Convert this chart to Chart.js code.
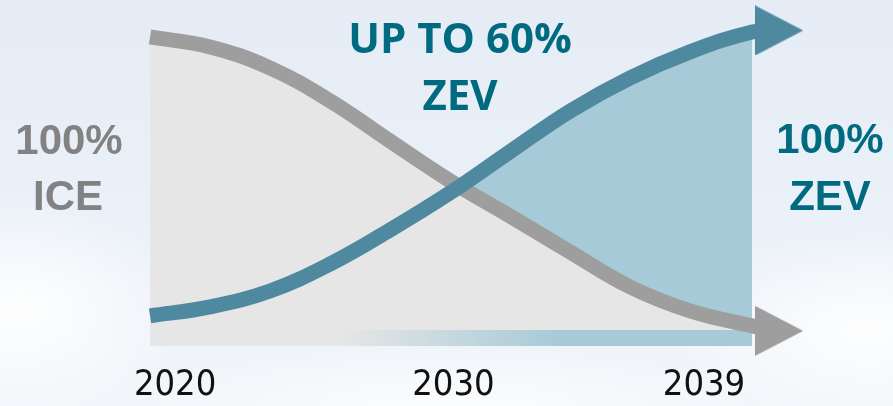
<!DOCTYPE html>
<html>
<head>
<meta charset="utf-8">
<script src="https://cdn.jsdelivr.net/npm/chart.js@4"></script>
<style>
  html, body { margin: 0; padding: 0; }
  body {
    width: 893px; height: 406px; overflow: hidden;
    background:
      radial-gradient(ellipse 170px 110px at 20px 310px, rgba(255,255,255,0.95), rgba(255,255,255,0) 100%),
      radial-gradient(ellipse 200px 100px at 870px 330px, rgba(255,255,255,0.9), rgba(255,255,255,0) 100%),
      radial-gradient(ellipse 320px 60px at 450px 405px, rgba(255,255,255,0.7), rgba(255,255,255,0) 100%),
      linear-gradient(#e5ecf5, #ebf1f8 55%, #f2f6fa);
  }
  #wrap { position: relative; width: 893px; height: 406px; }
</style>
</head>
<body>
<div id="wrap"><canvas id="chart"></canvas></div>
<script>
// years along the curves
const years = [2019.1, 2021.26, 2023.41, 2025.57, 2027.72, 2029.88, 2032.03, 2034.19, 2036.34, 2038.5, 2040.73];
// share of new sales, %
const iceShare = [100, 96.6, 89.4, 78.2, 64.5, 50.9, 38.9, 26.6, 14.7, 6.5, 1.4];
const zevShare = [4.8, 7.9, 13.3, 22.5, 34.1, 46.8, 60.8, 74.7, 86.0, 94.9, 101.7];
// where each arrow head sits
const arrowYear = 2041.7;
const iceArrow = -0.3;
const zevArrow = 102.2;
// flat base strip under the area
const baseTop = [0, 0];
const baseBottom = -5.5;
// x axis labels
const tickYears = [2020, 2030, 2039];
const tickLabels = ['2020', '2030', '2039'];

const GREY_LINE = '#9e9e9e';
const BLUE_LINE = '#4e89a0';
const GREY_FILL = '#e6e6e6';
const BLUE_FILL = '#a7cad8';

function makeArrow(color) {
    const c = document.createElement('canvas');
    c.width = 48;
    c.height = 50;
    const g = c.getContext('2d');
    g.fillStyle = color;
    g.beginPath();
    g.moveTo(0, 0);
    g.lineTo(48, 25);
    g.lineTo(0, 50);
    g.closePath();
    g.fill();
    return c;
}

function toPoints(xs, ys) {
    return xs.map((x, i) => ({ x: x, y: ys[i] }));
}

const greyArrow = makeArrow(GREY_LINE);
const blueArrow = makeArrow(BLUE_LINE);
const lastIdx = years.length; // index of arrow point in line datasets

// labels drawn on the canvas
const labelPlugin = {
    id: 'labels',
    afterDraw(chart) {
        const c = chart.ctx;
        c.save();
        c.textAlign = 'center';
        c.textBaseline = 'alphabetic';
        c.font = 'bold 42px "Liberation Sans", Arial, sans-serif';
        c.fillStyle = '#828282';
        c.fillText('100%', 69, 154);
        c.fillText('ICE', 68, 210);
        c.fillStyle = '#006a80';
        c.fillText('100%', 830, 153);
        c.fillText('ZEV', 830, 210);
        c.font = 'bold 42px "Open Sans", sans-serif';
        c.fillText('UP TO 60%', 460, 53);
        c.fillText('ZEV', 460, 110);
        c.restore();
    }
};

new Chart(document.getElementById('chart'), {
    type: 'line',
    data: {
        datasets: [
            {
                label: 'ICE area',
                data: toPoints(years, iceShare),
                backgroundColor: GREY_FILL,
                borderWidth: 0,
                pointRadius: 0,
                tension: 0.4,
                fill: { value: baseBottom },
                order: 6
            },
            {
                label: 'base',
                data: toPoints([years[0], years[years.length - 1]], baseTop),
                backgroundColor: function(ctx) {
                    const chart = ctx.chart;
                    if (!chart.chartArea) return GREY_FILL;
                    const xs = chart.scales.x;
                    const g = chart.ctx.createLinearGradient(xs.getPixelForValue(2026), 0, xs.getPixelForValue(2033.8), 0);
                    g.addColorStop(0, GREY_FILL);
                    g.addColorStop(1, BLUE_FILL);
                    return g;
                },
                borderWidth: 0,
                pointRadius: 0,
                fill: { value: baseBottom },
                order: 5
            },
            {
                label: 'ZEV area',
                data: toPoints(years, zevShare),
                borderWidth: 0,
                pointRadius: 0,
                tension: 0.4,
                fill: { target: 0, above: BLUE_FILL, below: 'rgba(0,0,0,0)' },
                order: 4
            },
            {
                label: 'ICE',
                data: toPoints(years.concat([arrowYear]), iceShare.concat([iceArrow])),
                borderColor: GREY_LINE,
                borderWidth: 15,
                fill: false,
                tension: 0.4,
                pointStyle: greyArrow,
                pointRadius: ctx => ctx.dataIndex === lastIdx ? 24 : 0,
                order: 3
            },
            {
                label: 'ZEV',
                data: toPoints(years.concat([arrowYear]), zevShare.concat([zevArrow])),
                borderColor: BLUE_LINE,
                borderWidth: 15,
                fill: false,
                tension: 0.4,
                pointStyle: blueArrow,
                pointRadius: ctx => ctx.dataIndex === lastIdx ? 24 : 0,
                order: 2
            }
        ]
    },
    options: {
        responsive: true,
        maintainAspectRatio: false,
        animation: false,
        layout: { padding: 0, autoPadding: false },
        plugins: {
            legend: { display: false },
            tooltip: { enabled: false }
        },
        scales: {
            x: {
                type: 'linear',
                min: 2013.71,
                max: 2045.79,
                grid: { display: false, drawTicks: false },
                border: { display: false },
                afterBuildTicks: function(scale) {
                    scale.ticks = tickYears.map(v => ({ value: v }));
                },
                ticks: {
                    autoSkip: false,
                    maxRotation: 0,
                    padding: 5,
                    color: '#111111',
                    font: { family: '"Liberation Sans Narrow", "DejaVu Sans Condensed", sans-serif', size: 36, lineHeight: 0.834 },
                    callback: function(value) {
                        const i = tickYears.indexOf(value);
                        return i >= 0 ? tickLabels[i] : '';
                    }
                }
            },
            y: {
                display: false,
                min: -12.29,
                max: 112.6
            }
        }
    },
    plugins: [labelPlugin]
});
</script>
</body>
</html>
